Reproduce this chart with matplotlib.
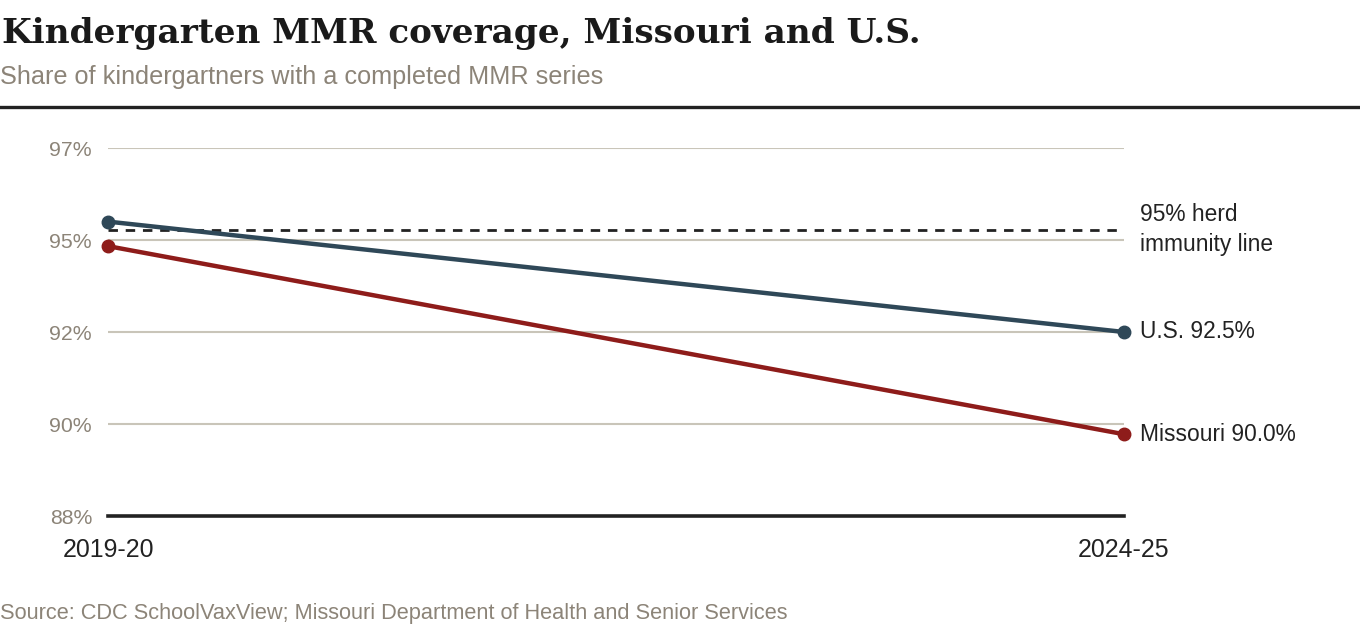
import matplotlib
matplotlib.use("Agg")
import matplotlib.pyplot as plt
import numpy as np

# Data
years = ["2019-20", "2024-25"]
us_values = [95.2, 92.5]
mo_values = [94.6, 90.0]
herd_level = 95.0
ytick_labels = ["88%", "90%", "92%", "95%", "97%"]
y_min, y_max = 88.0, 97.0

title = "Kindergarten MMR coverage, Missouri and U.S."
subtitle = "Share of kindergartners with a completed MMR series"
source = "Source: CDC SchoolVaxView; Missouri Department of Health and Senior Services"

US_COLOR = "#2f4858"
MO_COLOR = "#8e1c1a"
GRID_COLOR = "#c9c5b9"
GRAY_TEXT = "#8c8478"
DARK = "#222222"

plt.rcParams['font.family'] = ['Liberation Sans', 'DejaVu Sans']

W, H = 1360, 640
fig = plt.figure(figsize=(W / 100, H / 100), dpi=100)
ax = fig.add_axes([108 / W, 1 - 516 / H, (1124 - 108) / W, (516 - 148) / H])

x = np.arange(len(years))
ax.set_xlim(x[0], x[-1])
ax.set_ylim(y_min, y_max)

yticks = np.linspace(y_min, y_max, len(ytick_labels))
for yt in yticks[1:]:
    ax.axhline(yt, color=GRID_COLOR, lw=1.5, zorder=1)
ax.axhline(y_min, color=DARK, lw=2.6, zorder=2, clip_on=False)

ax.axhline(herd_level, color=DARK, lw=2, ls=(0, (3.4, 2.8)), zorder=3)

ax.plot(x, us_values, color=US_COLOR, lw=3.2, marker="o", ms=9,
        zorder=5, clip_on=False, solid_capstyle="round")
ax.plot(x, mo_values, color=MO_COLOR, lw=3.2, marker="o", ms=9,
        zorder=4, clip_on=False, solid_capstyle="round")

ax.set_yticks(yticks)
ax.set_yticklabels(ytick_labels)
ax.set_xticks(x)
ax.set_xticklabels(years)
ax.tick_params(axis="y", length=0, pad=11.5, labelsize=15.3, labelcolor=GRAY_TEXT)
ax.tick_params(axis="x", length=0, pad=16, labelsize=17.9, labelcolor=DARK)
for s in ax.spines.values():
    s.set_visible(False)

label_x = 1140
end_labels = [
    (f"U.S. {us_values[-1]:.1f}%", us_values[-1]),
    (f"Missouri {mo_values[-1]:.1f}%", mo_values[-1]),
    ("95% herd\nimmunity line", herd_level),
]
for txt, yv in end_labels:
    ax.annotate(txt, xy=(x[-1], yv),
                xytext=(label_x, yv), textcoords=("figure pixels", "data"),
                fontsize=16.4, color=DARK, va="center", ha="left",
                linespacing=1.4, annotation_clip=False)

fig.text(2 / W, 1 - 34 / H, title, fontsize=24.7, fontweight="bold",
         family="DejaVu Serif", color="#1a1a1a", va="center", ha="left")
fig.text(0 / W, 1 - 77 / H, subtitle, fontsize=18.2, color=GRAY_TEXT,
         va="center", ha="left")
fig.add_artist(plt.Line2D([0, 1], [1 - 107 / H, 1 - 107 / H], color=DARK, lw=2.4,
                          transform=fig.transFigure))
fig.text(0 / W, 1 - 614 / H, source, fontsize=15.7, color=GRAY_TEXT,
         va="center", ha="left")

fig.savefig("out.png", dpi=100)
